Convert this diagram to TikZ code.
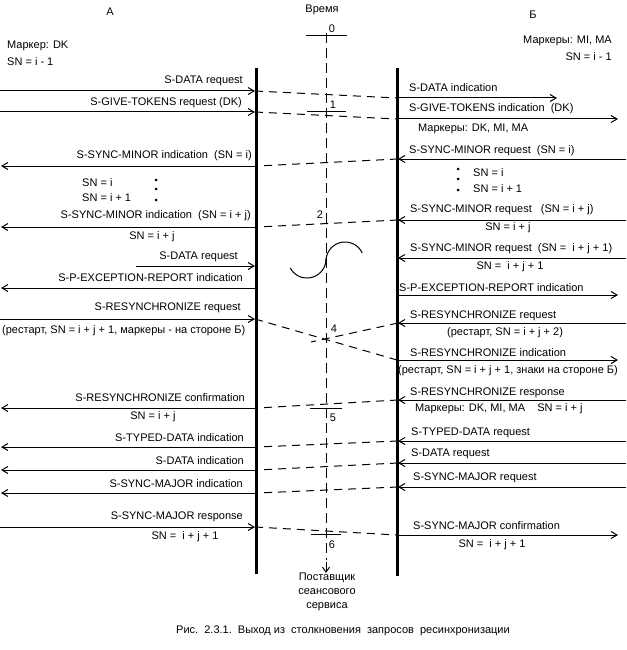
\documentclass[tikz,border=0pt]{standalone}
\usepackage{fontspec}
\setmainfont{Liberation Sans}
\usetikzlibrary{arrows.meta}
\begin{document}
\begin{tikzpicture}[x=1pt,y=-1pt,
  lbl/.style={inner sep=0pt, font=\fontsize{11}{13}\selectfont},
  lw/.style={lbl, anchor=west},
  le/.style={lbl, anchor=east},
  msg/.style={line width=1pt, -{Straight Barb[length=6pt,width=7pt]}},
  link/.style={line width=1pt, dash pattern=on 8pt off 6pt},
  life/.style={line width=3pt},
  taxis/.style={line width=1pt, dash pattern=on 10pt off 5pt},
  tickln/.style={line width=1pt},
  dotm/.style={circle, fill, inner sep=0pt, minimum size=3pt}]
\useasboundingbox (0,0) rectangle (626,650);
% headers
\node[lbl] (hA) at (110,12) {А};
\node[lbl] (hT) at (322,10) {Время};
\node[lbl] (hB) at (533,15) {Б};
\node[lw] (mkA) at (7,46) {Маркер: DK};
\node[lw] (snA) at (7,62) {SN = i - 1};
\node[le] (mkB) at (612,41) {Маркеры: MI, MA};
\node[le] (snB) at (612,57) {SN = i - 1};
% lifelines
\coordinate (At) at (256,68); \coordinate (Ab) at (256,574);
\coordinate (Bt) at (397,68); \coordinate (Bb) at (397,576);
\draw[life] (At) -- (Ab);
\draw[life] (Bt) -- (Bb);
% time axis
\coordinate (Tt) at (326,33); \coordinate (Tb) at (326,573);
\draw[taxis] (Tt) -- (326,560);
\draw[line width=1pt, -{Straight Barb[length=5pt,width=7pt]}] (326,562) -- (Tb);
\node[lbl, align=center, font=\fontsize{11}{14}\selectfont, anchor=north] (prov) at (327,573) {Поставщик\\сеансового\\сервиса};
% ticks
\draw[tickln] (306,36) -- (347,36); \node[lbl] (t0) at (332,29) {0};
\draw[tickln] (307,112) -- (346,112); \node[lbl] (t1) at (333,105) {1};
\node[lbl] (t2) at (320,215) {2};
\node[lbl] (t4) at (334,329) {4};
\draw[tickln] (310,408) -- (342,408); \node[lbl] (t5) at (333,418) {5};
\draw[tickln] (311,534) -- (341,534); \node[lbl] (t6) at (332,545) {6};
% m1 S-DATA
\coordinate (m1a) at (0,91); \coordinate (m1b) at (255,91); \coordinate (m1c) at (397,98); \coordinate (m1d) at (557,98);
\draw[msg] (m1a) -- (m1b); \draw[link] (m1b) -- (m1c); \draw[msg] (m1c) -- (m1d);
\node[le] (l1a) at (243,81) {S-DATA request};
\node[lw] (l1b) at (409,88) {S-DATA indication};
% m2 GIVE TOKENS
\coordinate (m2a) at (0,112); \coordinate (m2b) at (255,112); \coordinate (m2c) at (397,119); \coordinate (m2d) at (618,119);
\draw[msg] (m2a) -- (m2b); \draw[link] (m2b) -- (m2c); \draw[msg] (m2c) -- (m2d);
\node[le] (l2a) at (242,103) {S-GIVE-TOKENS request (DK)};
\node[lw] (l2b) at (409,109) {S-GIVE-TOKENS indication~~(DK)};
\node[lw] (l2c) at (418,129) {Маркеры: DK, MI, MA};
% m3 SYNC-MINOR i
\coordinate (m3a) at (626,159); \coordinate (m3b) at (398,159); \coordinate (m3c) at (257,166); \coordinate (m3d) at (1,166);
\draw[msg] (m3a) -- (m3b); \draw[link] (m3b) -- (m3c); \draw[msg] (m3c) -- (m3d);
\node[lw] (l3a) at (409,151) {S-SYNC-MINOR request~~(SN = i)};
\node[le] (l3b) at (252,156) {S-SYNC-MINOR indication~~(SN = i)};
% dots
\node[dotm] (dl1) at (156,180) {}; \node[dotm] (dl2) at (156,189) {}; \node[dotm] (dl3) at (156,200) {};
\node[dotm] (dr1) at (458,169) {}; \node[dotm] (dr2) at (458,179) {}; \node[dotm] (dr3) at (458,190) {};
\node[lw] (sl1) at (82,183) {SN = i};
\node[lw] (sl2) at (82,198) {SN = i + 1};
\node[lw] (sr1) at (473,173) {SN = i};
\node[lw] (sr2) at (473,189) {SN = i + 1};
% m4 SYNC-MINOR i+j
\coordinate (m4a) at (626,220); \coordinate (m4b) at (398,220); \coordinate (m4c) at (257,227); \coordinate (m4d) at (1,227);
\draw[msg] (m4a) -- (m4b); \draw[link] (m4b) -- (m4c); \draw[msg] (m4c) -- (m4d);
\node[lw] (l4a) at (410,210) {S-SYNC-MINOR request~~~(SN = i + j)};
\node[lbl] (l4b) at (508,228) {SN = i + j};
\node[le] (l4c) at (251,216) {S-SYNC-MINOR indication~~(SN = i + j)};
\node[lbl] (l4d) at (152,237) {SN = i + j};
% m5
\coordinate (m5a) at (136,266); \coordinate (m5b) at (255,266);
\draw[msg] (m5a) -- (m5b);
\node[le] (l5a) at (238,257) {S-DATA request};
\coordinate (m5c) at (626,258); \coordinate (m5d) at (398,258);
\draw[msg] (m5c) -- (m5d);
\node[lw] (l5b) at (410,249) {S-SYNC-MINOR request~~(SN =~~i + j + 1)};
\node[lbl] (l5c) at (510,267) {SN =~~i + j + 1};
% S curve
\draw[line width=1pt] plot[domain=152:0, samples=40] ({307+19*cos(\x)},{259+19*sin(\x)});
\draw[line width=1pt] plot[domain=180:335, samples=40] ({345+19*cos(\x)},{261+19*sin(\x)});
% m6 exception
\coordinate (m6a) at (257,288); \coordinate (m6b) at (1,288);
\draw[msg] (m6a) -- (m6b);
\node[le] (l6a) at (243,278) {S-P-EXCEPTION-REPORT indication};
\coordinate (m6c) at (397,295); \coordinate (m6d) at (618,295);
\draw[msg] (m6c) -- (m6d);
\node[lw] (l6b) at (399,288) {S-P-EXCEPTION-REPORT indication};
% m7 resync collision
\coordinate (m7a) at (0,319); \coordinate (m7b) at (255,319); \coordinate (m7c) at (397,360); \coordinate (m7d) at (618,360);
\draw[msg] (m7a) -- (m7b); \draw[link] (m7b) -- (m7c); \draw[msg] (m7c) -- (m7d);
\coordinate (m7e) at (626,323); \coordinate (m7f) at (398,323); \coordinate (m7g) at (311,342);
\draw[msg] (m7e) -- (m7f); \draw[link] (m7f) -- (m7g);
\node[le] (l7a) at (241,308) {S-RESYNCHRONIZE request};
\node[lw] (l7b) at (2,331) {(рестарт, SN = i + j + 1, маркеры - на стороне Б)};
\node[lw] (l7c) at (410,316) {S-RESYNCHRONIZE request};
\node[lw] (l7d) at (447,333) {(рестарт, SN = i + j + 2)};
\node[lw] (l7e) at (410,353) {S-RESYNCHRONIZE indication};
\node[lw] (l7f) at (398,371) {(рестарт, SN = i + j + 1, знаки на стороне Б)};
% m8 resync response
\coordinate (m8a) at (626,400); \coordinate (m8b) at (398,400); \coordinate (m8c) at (257,408); \coordinate (m8d) at (1,408);
\draw[msg] (m8a) -- (m8b); \draw[link] (m8b) -- (m8c); \draw[msg] (m8c) -- (m8d);
\node[lw] (l8a) at (410,393) {S-RESYNCHRONIZE response};
\node[lw] (l8b) at (415,409) {Маркеры: DK, MI, MA~~~~SN = i + j};
\node[le] (l8c) at (245,398) {S-RESYNCHRONIZE confirmation};
\node[lbl] (l8d) at (153,417) {SN = i + j};
% m9 typed data
\coordinate (m9a) at (626,441); \coordinate (m9b) at (398,441); \coordinate (m9c) at (257,447); \coordinate (m9d) at (1,447);
\draw[msg] (m9a) -- (m9b); \draw[link] (m9b) -- (m9c); \draw[msg] (m9c) -- (m9d);
\node[lw] (l9a) at (411,433) {S-TYPED-DATA request};
\node[le] (l9b) at (244,438) {S-TYPED-DATA indication};
% m10 data
\coordinate (m10a) at (626,463); \coordinate (m10b) at (398,463); \coordinate (m10c) at (257,470); \coordinate (m10d) at (1,470);
\draw[msg] (m10a) -- (m10b); \draw[link] (m10b) -- (m10c); \draw[msg] (m10c) -- (m10d);
\node[lw] (l10a) at (411,454) {S-DATA request};
\node[le] (l10b) at (244,461) {S-DATA indication};
% m11 sync major
\coordinate (m11a) at (626,487); \coordinate (m11b) at (398,487); \coordinate (m11c) at (257,493); \coordinate (m11d) at (1,493);
\draw[msg] (m11a) -- (m11b); \draw[link] (m11b) -- (m11c); \draw[msg] (m11c) -- (m11d);
\node[lw] (l11a) at (413,478) {S-SYNC-MAJOR request};
\node[le] (l11b) at (243,484) {S-SYNC-MAJOR indication};
% m12 sync major response
\coordinate (m12a) at (0,527); \coordinate (m12b) at (255,527); \coordinate (m12c) at (397,535); \coordinate (m12d) at (618,535);
\draw[msg] (m12a) -- (m12b); \draw[link] (m12b) -- (m12c); \draw[msg] (m12c) -- (m12d);
\node[le] (l12a) at (243,517) {S-SYNC-MAJOR response};
\node[lbl] (l12b) at (185,537) {SN =~~i + j + 1};
\node[lw] (l12c) at (413,526) {S-SYNC-MAJOR confirmation};
\node[lbl] (l12d) at (492,545) {SN =~~i + j + 1};
% caption
\node[lbl] (cap) at (343,631) {Рис.~~2.3.1.~~Выход из~~столкновения~~запросов~~ресинхронизации};
\end{tikzpicture}
\end{document}
